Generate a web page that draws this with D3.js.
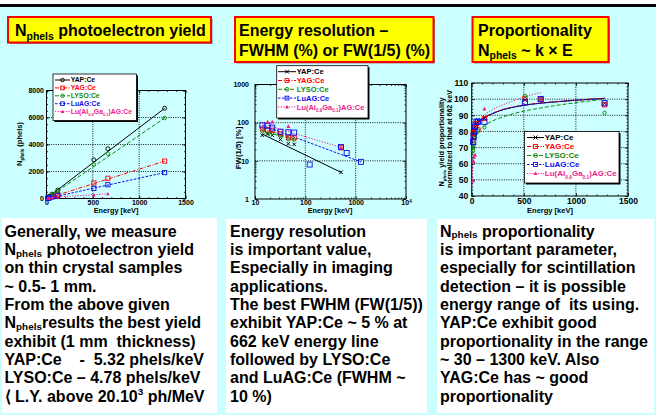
<!DOCTYPE html>
<html><head><meta charset="utf-8">
<script src="https://cdn.jsdelivr.net/npm/d3@7"></script>
<style>
body{margin:0;background:#ccffff;}
svg{display:block;}
svg text{white-space:pre;font-family:"Liberation Sans",Arial,sans-serif;font-weight:bold;}
</style></head><body>
<svg id="c" width="656" height="415"></svg>
<script>
// ---------------- DATA ----------------
const seriesNames = ["YAP:Ce","YAG:Ce","LYSO:Ce","LuAG:Ce","Lu(Al_{0.9}Ga_{0.1})AG:Ce"];

// Chart 1: photoelectron yield (phels) vs energy (keV)
const yieldEnergy  = [14, 22, 32, 60, 122, 511, 662, 1275];
const yieldYAP     = [80, 120, 170, 320, 620, 2860, 3690, 6680];
const yieldYAG     = [35, 55, 75, 140, 290, 1150, 1500, 2770];
const yieldLYSO    = [65, 100, 150, 290, 560, 2520, 3320, 5960];
const yieldLuAG    = [25, 40, 55, 105, 210, 750, 1020, 1920];
const yieldLuAGGa  = [15, 25, 35, 55, 110, 250, 350, null];
const yieldFitYAP    = [[15, 100], [1275, 6680]];
const yieldFitYAG    = [[15, 30], [1275, 2770]];
const yieldFitLYSO   = [[15, 60], [1275, 5960]];
const yieldFitLuAG   = [[15, 20], [1275, 1920]];
const yieldFitLuAGGa = [[15, 70], [662, 350]];
const yieldXTicks = [0, 500, 1000, 1500];
const yieldYTicks = [0, 2000, 4000, 6000, 8000];

// Chart 2: FW(1/5) [%] vs energy (log-log)
const resEnergy  = [14, 17.8, 22, 32, 46, 60, 122, 511, 662, 1275];
const resYAP     = [47, 51, 47, 36, 28, 27, null, 5, null, null];
const resYAG     = [69, 65, 63, 51, 40, 40, null, 22, null, null];
const resLYSO    = [60, 49, 53, 45, 37, 36, null, null, null, null];
const resLuAG    = [85, 83, 74, 58, 56, 55, 8, 23, 16, 9.4];
const resLuAGGa  = [null, 105, 105, null, 80, null, null, 22, null, null];
const resFitYAP    = [[14, 50], [511, 5]];
const resFitYAG    = [[14, 70], [60, 38]];
const resFitLYSO   = [[14, 60], [60, 36]];
const resFitLuAG   = [[14, 85], [1275, 9.4]];
const resFitLuAGGa = [[14, 94], [511, 22.4]];
const resXTicks = [10, 100, 1000, 10000];
const resYTicks = [1, 10, 100, 1000];

// Chart 3: proportionality (normalized to 662 keV)
const propEnergy  = [14, 17.8, 22, 32, 46, 60, 122, 511, 662, 1275];
const propYAP     = [76, 78, 80, 83, 85, 87, 88, 99.5, 100, 97.5];
const propYAG     = [79, 77, 80, 82, 85, 81, 88, 100.5, 100, 96.5];
const propLYSO    = [68, 70, 72, 76, 79, 80.5, 82.5, 102, 100, 91.5];
const propLuAG    = [73.5, 77, 80, 83, 86, 86, 86, 98, 100, 97.5];
const propLuAGGa  = [49.5, 61.5, 64, 65.5, null, null, 94, null, 100, null];
const propFitE       = [5, 10, 20, 40, 80, 122, 200, 300, 400, 511, 662, 800, 1000, 1275];
const propFitYAP     = [72, 77, 81, 84, 86.5, 88.5, 91, 93.5, 95, 96.3, 97.5, 98.3, 99.3, 100.5];
const propFitYAG     = [73, 77.5, 81.5, 84.5, 87, 88.8, 91.3, 93.7, 95.2, 96.5, 97.6, 98.4, 99.4, 100.6];
const propFitLYSO    = [62, 68, 73, 77, 81, 83.5, 86.5, 89, 91, 92.7, 94.5, 96, 97.8, 100];
const propFitLuAG    = [72.5, 77, 81, 84, 86.5, 88.4, 91, 93.4, 95, 96.3, 97.5, 98.3, 99.3, 100.5];
const propFitGaE     = [3, 10, 20, 40, 80, 122, 200, 300, 400, 511, 662];
const propFitLuAGGa  = [45, 60, 69, 78, 86, 90, 93.5, 96.5, 99, 101.5, 104];
const propXTicks = [0, 500, 1000, 1500];
const propYTicks = [40, 50, 60, 70, 80, 90, 100, 110];

// Text blocks
const title1 = ["N_{phels} photoelectron yield"];
const title2 = ["Energy resolution \u2013", "FWHM (%) or FW(1/5) (%)"];
const title3 = ["Proportionality", "N_{phels} ~ k \u00d7 E"];
const textA = ["Generally, we measure", "N_{phels} photoelectron yield", "on thin crystal samples",
  "~ 0.5- 1 mm.", "From the above given", "N_{phels}results the best yield",
  "exhibit (1 mm  thickness)", "YAP:Ce    -  5.32 phels/keV", "LYSO:Ce \u2013 4.78 phels/keV",
  "\u27e8 L.Y. above 20.10^{3} ph/MeV"];
const textB = ["Energy resolution", "is important value,", "Especially in imaging", "applications.",
  "The best FWHM (FW(1/5))", "exhibit YAP:Ce ~ 5 % at", "662 keV energy line",
  "followed by LYSO:Ce", "and LuAG:Ce (FWHM ~", "10 %)"];
const textC = ["N_{phels} proportionality", "is important parameter,", "especially for scintillation",
  "detection \u2013 it is possible", "energy range of  its using.", "YAP:Ce exhibit good",
  "proportionality in the range", "~ 30 \u2013 1300 keV. Also", "YAG:Ce has ~ good", "proportionality"];

// ---------------- STYLE ----------------
const colors = ["#000000", "#ff0000", "#0b8a0b", "#0a0aee", "#f0188c"];
const dashes = [null, "4,1.5,1,1.5", "4,2", "2.5,1.5", "1.2,1.5"];
const BG = "#ccffff";

const svg = d3.select("#c");
svg.append("rect").attr("width", 656).attr("height", 415).attr("fill", BG);
svg.append("rect").attr("width", 656).attr("height", 4).attr("fill", "#fff");
svg.append("rect").attr("y", 4).attr("width", 656).attr("height", 3).attr("fill", "#000");

function rich(t, str, fs, sc, subShift) {
  sc = sc || 0.62;
  const sub = subShift == null ? fs * 0.3 : subShift;
  const parts = str.split(/(_\{[^}]*\}|\^\{[^}]*\})/).filter(s => s.length);
  let shift = 0;
  parts.forEach(p => {
    let txt, size, target;
    if (p.startsWith("_{")) { txt = p.slice(2, -1); size = fs * sc; target = sub; }
    else if (p.startsWith("^{")) { txt = p.slice(2, -1); size = fs * sc; target = -fs * 0.4; }
    else { txt = p; size = fs; target = 0; }
    const ts = t.append("tspan").text(txt).attr("font-size", size);
    if (target - shift !== 0) ts.attr("dy", target - shift);
    shift = target;
  });
}

// Title boxes
function titleBox(x, y, w, h, lines, tx, tys) {
  svg.append("rect").attr("x", x + 1.5).attr("y", y + 1.5).attr("width", w).attr("height", h).attr("fill", "#888");
  svg.append("rect").attr("x", x).attr("y", y).attr("width", w).attr("height", h)
    .attr("fill", "#ffff00").attr("stroke", "#ff0000").attr("stroke-width", 2);
  lines.forEach((l, i) => {
    const t = svg.append("text").attr("x", tx).attr("y", tys[i]).attr("font-size", 16).attr("fill", "#000");
    rich(t, l, 16, 0.65, 3.5);
  });
}
titleBox(8, 17, 203, 25.5, title1, 15, [36]);
titleBox(235, 17, 198.5, 45, title2, 239, [36, 56]);
titleBox(472.5, 17, 136, 45, title3, 478, [36, 55.5]);

// Text boxes
function textBox(x, y, w, h, lines, tx) {
  svg.append("rect").attr("x", x).attr("y", y).attr("width", w).attr("height", h).attr("fill", "#fff");
  lines.forEach((l, i) => {
    const t = svg.append("text").attr("x", tx).attr("y", 236.8 + i * 18.33).attr("font-size", 16).attr("fill", "#000");
    rich(t, l, 16, 0.62, 1.5);
  });
}
textBox(2, 218, 215, 195, textA, 4.5);
textBox(226, 219, 201, 194, textB, 230);
textBox(437, 219, 217, 194, textC, 440);

// Markers
function marker(g, type, cx, cy, s, color) {
  if (type === "circle") g.append("circle").attr("cx", cx).attr("cy", cy).attr("r", s / 2)
    .attr("fill", "none").attr("stroke", color).attr("stroke-width", 0.9);
  else if (type === "square") g.append("rect").attr("x", cx - s / 2).attr("y", cy - s / 2).attr("width", s).attr("height", s)
    .attr("fill", "none").attr("stroke", color).attr("stroke-width", 0.9);
  else if (type === "x") {
    const h = s / 2;
    g.append("path").attr("d", `M${cx-h},${cy-h}L${cx+h},${cy+h}M${cx-h},${cy+h}L${cx+h},${cy-h}`)
      .attr("stroke", color).attr("stroke-width", 1);
  } else if (type === "triangle") {
    const h = s / 2;
    g.append("path").attr("d", `M${cx},${cy-h}L${cx+h},${cy+h*0.8}L${cx-h},${cy+h*0.8}Z`).attr("fill", color);
  }
}

// Axes + frame
function axes(x, y, o) {
  const [x0, x1] = x.range(), [y0, y1] = y.range();
  const g = svg.append("g");
  o.xGrid.forEach(v => g.append("line").attr("x1", x(v)).attr("x2", x(v)).attr("y1", y0).attr("y2", y1)
    .attr("stroke", "#000").attr("stroke-width", 0.9).attr("stroke-dasharray", "1,1.3"));
  o.yGrid.forEach(v => g.append("line").attr("x1", x0).attr("x2", x1).attr("y1", y(v)).attr("y2", y(v))
    .attr("stroke", "#000").attr("stroke-width", 0.9).attr("stroke-dasharray", "1,1.3"));
  const bx = g.append("g").attr("transform", `translate(0,${y0})`)
    .call(d3.axisBottom(x).tickValues(o.xTicks).tickSize(-3).tickPadding(o.xPad).tickFormat(o.xFmt));
  g.append("g").attr("transform", `translate(0,${y1})`).call(d3.axisTop(x).tickValues(o.xTicks).tickSize(-3).tickFormat(""));
  g.append("g").attr("transform", `translate(${x0},0)`)
    .call(d3.axisLeft(y).tickValues(o.yTicks).tickSize(-3).tickPadding(o.yPad).tickFormat(o.yFmt));
  g.append("g").attr("transform", `translate(${x1},0)`).call(d3.axisRight(y).tickValues(o.yTicks).tickSize(-3).tickFormat(""));
  g.append("g").attr("transform", `translate(0,${y0})`).call(d3.axisBottom(x).tickValues(o.xMinor).tickSize(-1.5).tickFormat(""));
  g.append("g").attr("transform", `translate(0,${y1})`).call(d3.axisTop(x).tickValues(o.xMinor).tickSize(-1.5).tickFormat(""));
  g.append("g").attr("transform", `translate(${x0},0)`).call(d3.axisLeft(y).tickValues(o.yMinor).tickSize(-1.5).tickFormat(""));
  g.append("g").attr("transform", `translate(${x1},0)`).call(d3.axisRight(y).tickValues(o.yMinor).tickSize(-1.5).tickFormat(""));
  g.selectAll(".domain").remove();
  g.selectAll(".tick line").attr("stroke", "#000").attr("stroke-width", 0.8);
  g.selectAll(".tick text").attr("font-family", null).attr("font-size", o.fs).attr("fill", "#000");
  g.append("rect").attr("x", x0).attr("y", y1).attr("width", x1 - x0).attr("height", y0 - y1)
    .attr("fill", "none").attr("stroke", "#000").attr("stroke-width", 1);
  return { g, bx };
}

function legend(box, y0, dy, lx0, lx1, fs, mk, ms) {
  const g = svg.append("g");
  g.append("rect").attr("x", box[0] + 1.5).attr("y", box[1] + 1.5).attr("width", box[2]).attr("height", box[3]).attr("fill", "#000");
  g.append("rect").attr("x", box[0]).attr("y", box[1]).attr("width", box[2]).attr("height", box[3])
    .attr("fill", "#fff").attr("stroke", "#000").attr("stroke-width", 0.8);
  seriesNames.forEach((name, i) => {
    const cy = y0 + i * dy;
    const ln = g.append("line").attr("x1", lx0).attr("x2", lx1).attr("y1", cy).attr("y2", cy)
      .attr("stroke", colors[i]).attr("stroke-width", 1);
    if (dashes[i]) ln.attr("stroke-dasharray", dashes[i]);
    marker(g, mk[i], (lx0 + lx1) / 2, cy, ms, colors[i]);
    const t = g.append("text").attr("x", lx1 + 0.8).attr("y", cy + fs * 0.36).attr("font-size", fs).attr("fill", colors[i]);
    rich(t, name, fs, 0.6);
  });
}

function drawSeries(x, y, energies, vals, i, mk, ms) {
  const g = svg.append("g");
  energies.forEach((e, k) => { if (vals[k] != null) marker(g, mk, x(e), y(vals[k]), ms, colors[i]); });
}
function drawLine(x, y, pts, i, curve) {
  const p = svg.append("path").datum(pts)
    .attr("d", d3.line().x(d => x(d[0])).y(d => y(d[1])).curve(curve || d3.curveLinear))
    .attr("fill", "none").attr("stroke", colors[i]).attr("stroke-width", 1);
  if (dashes[i]) p.attr("stroke-dasharray", dashes[i]);
}
function axisTitle(x, y, rot, str, fs) {
  const t = svg.append("text").attr("transform", `translate(${x},${y}) rotate(${rot})`)
    .attr("text-anchor", "middle").attr("font-size", fs).attr("fill", "#000");
  rich(t, str, fs, 0.6);
}

// ---------------- CHART 1 ----------------
{
  const x = d3.scaleLinear().domain([0, 1500]).range([46.5, 185.5]);
  const y = d3.scaleLinear().domain([0, 8000]).range([198.5, 90.5]);
  axes(x, y, { xTicks: yieldXTicks, yTicks: yieldYTicks, xGrid: [500, 1000], yGrid: [2000, 4000, 6000],
    xMinor: d3.range(0, 1501, 100), yMinor: d3.range(0, 8001, 500), xPad: 1.5, yPad: 2.5,
    xFmt: d3.format("d"), yFmt: d3.format("d"), fs: 7 });
  const fits = [yieldFitYAP, yieldFitYAG, yieldFitLYSO, yieldFitLuAG, yieldFitLuAGGa];
  const vals = [yieldYAP, yieldYAG, yieldLYSO, yieldLuAG, yieldLuAGGa];
  const mk = ["circle", "square", "circle", "square", "triangle"];
  const ms = [4, 4.2, 3.6, 4.2, 3.6];
  fits.forEach((f, i) => drawLine(x, y, f, i));
  vals.forEach((v, i) => drawSeries(x, y, yieldEnergy, v, i, mk[i], ms[i]));
  axisTitle(116, 213, 0, "Energy [keV]", 7.3);
  axisTitle(22, 144, -90, "N_{phels} (phels)", 7.5);
  legend([53, 74, 83.5, 46.5], 80, 7.9, 55, 70, 6.8, mk, 3.6);
}

// ---------------- CHART 2 ----------------
{
  const x = d3.scaleLog().domain([10, 10000]).range([255, 406]);
  const y = d3.scaleLog().domain([1, 1000]).range([199, 84.5]);
  const minorX = [], minorY = [];
  [10, 100, 1000].forEach(d => d3.range(2, 10).forEach(m => minorX.push(d * m)));
  [1, 10, 100].forEach(d => d3.range(2, 10).forEach(m => minorY.push(d * m)));
  const ax = axes(x, y, { xTicks: resXTicks, yTicks: resYTicks, xGrid: [100, 1000], yGrid: [10, 100],
    xMinor: minorX, yMinor: minorY, xPad: 1.5, yPad: 6,
    xFmt: d => d === 10000 ? "" : String(d), yFmt: d => String(d), fs: 7 });
  ax.bx.selectAll(".tick text").filter(d => d === 10000).each(function () {
    const t = d3.select(this); t.text(null); rich(t, "10^{4}", 7, 0.65);
  });
  const fits = [resFitYAP, resFitYAG, resFitLYSO, resFitLuAG, resFitLuAGGa];
  const vals = [resYAP, resYAG, resLYSO, resLuAG, resLuAGGa];
  const mk = ["x", "square", "circle", "square", "triangle"];
  const ms = [3.6, 4.2, 3.4, 5, 4];
  fits.forEach((f, i) => drawLine(x, y, f, i));
  vals.forEach((v, i) => drawSeries(x, y, resEnergy, v, i, mk[i], ms[i]));
  axisTitle(330, 213, 0, "Energy [keV]", 7.3);
  axisTitle(241, 148, -90, "FW(1/5) [%]", 7.8);
  legend([276.7, 65.7, 91.3, 52.3], 71.7, 8.8, 278, 296, 7.5, mk, 3.8);
}

// ---------------- CHART 3 ----------------
{
  const x = d3.scaleLinear().domain([0, 1500]).range([471.7, 628]);
  const y = d3.scaleLinear().domain([40, 110]).range([196, 83]);
  axes(x, y, { xTicks: propXTicks, yTicks: propYTicks, xGrid: [500, 1000], yGrid: [50, 60, 70, 80, 90, 100],
    xMinor: d3.range(0, 1501, 100), yMinor: d3.range(40, 111, 2), xPad: 1.8, yPad: 3.5,
    xFmt: d3.format("d"), yFmt: d3.format("d"), fs: 8.5 });
  const fitV = [propFitYAP, propFitYAG, propFitLYSO, propFitLuAG];
  fitV.forEach((v, i) => drawLine(x, y, propFitE.map((e, k) => [e, v[k]]), i, d3.curveMonotoneX));
  drawLine(x, y, propFitGaE.map((e, k) => [e, propFitLuAGGa[k]]), 4, d3.curveMonotoneX);
  const vals = [propYAP, propYAG, propLYSO, propLuAG, propLuAGGa];
  const mk = ["x", "square", "circle", "square", "triangle"];
  const ms = [3.6, 4.2, 3.4, 5.2, 4];
  vals.forEach((v, i) => drawSeries(x, y, propEnergy, v, i, mk[i], ms[i]));
  axisTitle(550, 212.5, 0, "Energy [keV]", 7.5);
  axisTitle(443.5, 142, -90, "N_{phels} yield proportionality", 7.3);
  axisTitle(452, 139, -90, "normalized to that at 662 keV", 7.1);
  legend([524.5, 131.5, 94.5, 51.5], 137.5, 9, 527, 544, 8, mk, 4);
}
</script>
</body></html>
